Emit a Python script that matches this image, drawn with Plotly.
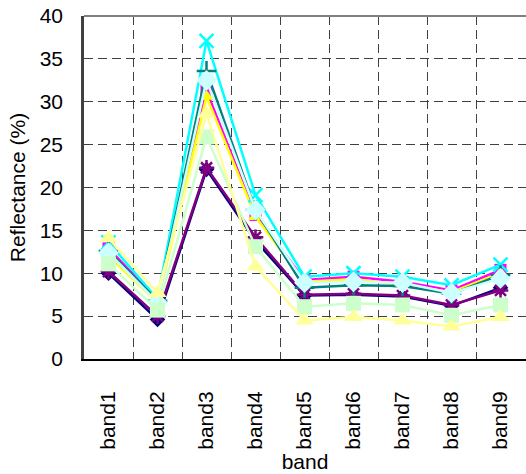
import plotly.graph_objects as go

bands = ["band1", "band2", "band3", "band4", "band5", "band6", "band7", "band8", "band9"]

navy = [10.0, 4.6, 22.1, 13.8, 7.4, 7.5, 7.3, 6.2, 8.3]
magenta = [12.9, 6.9, 31.3, 16.8, 9.2, 9.6, 9.0, 8.0, 10.4]
yellow = [12.0, 6.6, 30.6, 16.6, 9.0, 9.3, 8.7, 7.8, 10.0]
cyan = [13.6, 7.0, 37.1, 19.1, 9.6, 10.0, 9.6, 8.6, 11.0]
purple = [10.2, 5.0, 22.3, 14.2, 7.5, 7.6, 7.4, 6.3, 8.0]
teal = [12.6, 6.8, 33.6, 17.4, 8.3, 8.6, 8.5, 7.6, 9.8]
light_cyan = [12.4, 6.6, 32.5, 17.4, 8.9, 9.0, 8.9, 7.7, 9.4]
light_green = [11.1, 5.7, 25.9, 13.1, 6.1, 6.5, 6.3, 5.1, 6.3]
pale_yellow = [14.1, 7.7, 28.6, 10.8, 4.5, 4.9, 4.5, 3.8, 4.9]

series = [
    ("S1", navy, "#000080", "diamond", 12),
    ("S2", magenta, "#FF00FF", "square", 12),
    ("S3", yellow, "#FFFF00", "triangle-up", 13),
    ("S4", cyan, "#00FFFF", "x-thin", 14),
    ("S5", purple, "#800080", "asterisk", 13),
    ("S6", teal, "#008080", "cross-thin", 14),
    ("S7", light_cyan, "#CCFFFF", "diamond", 16),
    ("S8", light_green, "#CCFFCC", "square", 15),
    ("S9", pale_yellow, "#FFFF99", "triangle-up", 16),
]

fig = go.Figure()
for name, vals, col, sym, sz in series:
    fig.add_trace(go.Scatter(
        x=bands, y=vals, name=name, mode="lines+markers",
        line=dict(color=col, width=2.5),
        marker=dict(symbol=sym, size=sz, color=col,
                    line=dict(color=col, width=2.5 if "thin" in sym or sym == "asterisk" else 0)),
    ))

FONT = "Liberation Sans, Arial, sans-serif"
fig.update_layout(
    width=526, height=474,
    margin=dict(l=84, r=0, t=16, b=115),
    paper_bgcolor="white", plot_bgcolor="white",
    showlegend=False,
    font=dict(family=FONT, size=21, color="black"),
    xaxis=dict(
        type="category", range=[-0.5, 8.52], tickson="boundaries",
        showgrid=True, gridcolor="#404040", gridwidth=1.3, griddash="9px,5px",
        showline=True, linecolor="black", linewidth=2,
        ticks="", tickangle=-90, ticklabelstandoff=22,
        title=dict(text="band", font=dict(size=21), standoff=3),
        zeroline=False,
    ),
    yaxis=dict(
        range=[0, 40], dtick=5, tick0=0,
        showgrid=True, gridcolor="#404040", gridwidth=1.3, griddash="9px,5px",
        showline=True, linecolor="#404040", linewidth=2.5,
        ticks="", ticklabelstandoff=14,
        title=dict(text="Reflectance (%)", font=dict(size=21), standoff=9),
        zeroline=False,
    ),
    shapes=[dict(type="line", xref="paper", yref="paper", x0=0, x1=1, y0=1, y1=1,
                 line=dict(color="#808080", width=2))],
)

fig.write_html("out.html")
